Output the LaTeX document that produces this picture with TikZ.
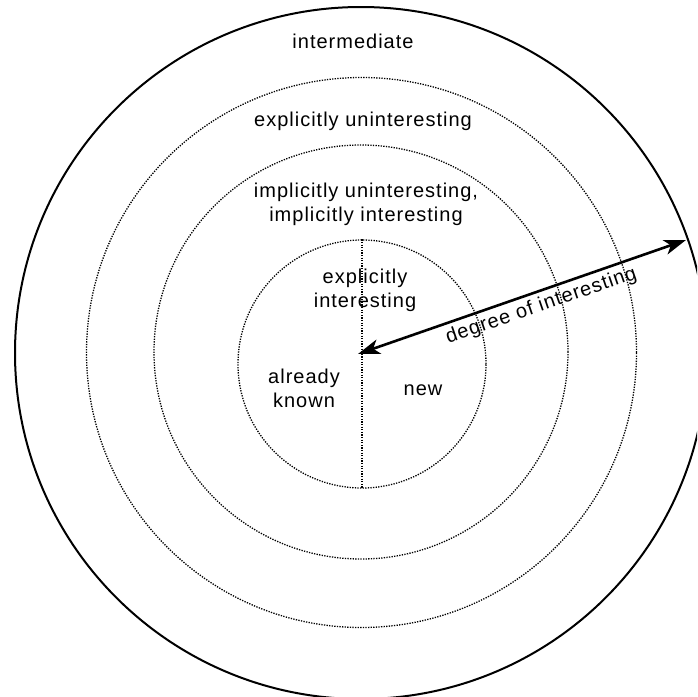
\documentclass[tikz,border=0pt]{standalone}
\usepackage{fontspec}
\setmainfont{Liberation Sans}[LetterSpace=5]
\usetikzlibrary{arrows.meta}

\begin{document}
\begin{tikzpicture}[x=1pt, y=-1pt,
  font=\fontsize{20}{23.5}\selectfont,
  txt/.style={inner sep=0pt, align=center, anchor=base},
  ring/.style={circle, draw, line width=1.3pt, dash pattern=on 1.3pt off 1.3pt, inner sep=0pt},
  divider/.style={line width=1.3pt, dash pattern=on 1.3pt off 1.3pt},
  scalearrow/.style={line width=2.6pt,
    arrows={Stealth[length=22pt, width=15pt, inset=6pt]-Stealth[length=22pt, width=15pt, inset=6pt]}}]
  \useasboundingbox (0,0) rectangle (697,697);
  \clip (0,0) rectangle (697,697);

  % concentric zones
  \node[circle, draw, line width=2pt, inner sep=0pt, minimum size=692pt] (outer) at (361,353) {};
  \node[ring, minimum size=550pt] (ring3) at (361.5,352.5) {};
  \node[ring, minimum size=414pt] (ring2) at (361,352) {};
  \node[ring, minimum size=248pt] (core) at (362,364) {};
  \draw[divider] (core.north) -- (core.south);

  % zone names (base anchor = baseline of the last line)
  \node[txt] (intermediate) at (353,48) {intermediate};
  \node[txt] (explUnint) at (363,126) {explicitly uninteresting};
  \node[txt] (implicit) at (366,221) {implicitly uninteresting,\\implicitly interesting};
  \node[txt] (explInt) at (365,307) {explicitly\\interesting};
  \node[txt] (known) at (304,407) {already\\known};
  \node[txt] (new) at (423,395) {new};

  % radial scale
  \coordinate (tail) at (358,354);
  \coordinate (head) at (686,240);
  \draw[scalearrow] (tail) -- (head);
  \node[txt, rotate=19] (degree) at (543,311) {degree of interesting};
\end{tikzpicture}
\end{document}
